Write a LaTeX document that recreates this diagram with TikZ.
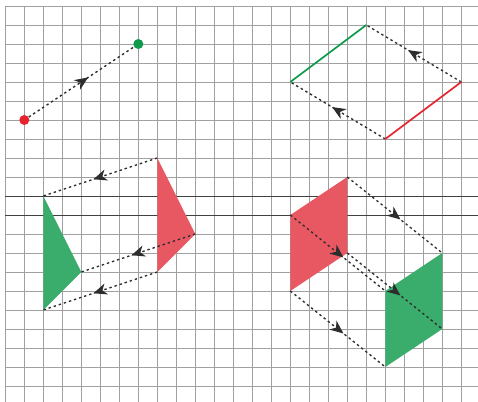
\documentclass[tikz,border=0pt]{standalone}
\usetikzlibrary{arrows.meta,decorations.markings}
\definecolor{fillred}{RGB}{232,88,98}
\definecolor{fillgreen}{RGB}{58,172,108}
\definecolor{linered}{RGB}{230,36,46}
\definecolor{linegreen}{RGB}{14,154,74}
\definecolor{gridgray}{RGB}{160,160,160}
\definecolor{dashgray}{RGB}{45,45,45}
\tikzset{
  gridline/.style={draw=gridgray,line width=0.55pt},
  axisline/.style={draw=black!75,line width=0.6pt},
  transl/.style={draw=dashgray,line width=1pt,dash pattern=on 1.8pt off 2.2pt,
    postaction={decorate,decoration={markings,mark=at position 0.56 with {\arrow[dashgray]{Stealth[length=10pt,width=8.5pt,inset=3pt]}}}}},
  redfill/.style={fill=fillred,draw=none},
  greenfill/.style={fill=fillgreen,draw=none},
  redseg/.style={draw=linered,line width=1.3pt},
  greenseg/.style={draw=linegreen,line width=1.3pt},
  dotred/.style={circle,fill=linered,inner sep=0pt,minimum size=7.5pt},
  dotgreen/.style={circle,fill=linegreen,inner sep=0pt,minimum size=7.5pt}
}
\begin{document}
\begin{tikzpicture}[x=0.5cm,y=-0.5cm]
\useasboundingbox (-0.28,-0.316) rectangle (24.88,20.84);
\fill[white] (-0.28,-0.316) rectangle (24.88,20.84);
% grid
\foreach \i in {0,...,24} \draw[gridline] (\i,0) -- (\i,20.84);
\foreach \j in {0,...,20} \draw[gridline] (0,\j) -- (24.88,\j);
\draw[axisline] (0,10) -- (24.88,10);
\draw[axisline] (0,11) -- (24.88,11);

% top-left: point translation
\coordinate (p) at (1,6);
\coordinate (q) at (7,2);
\draw[transl] (p) -- (q);
\node[dotred] (pdot) at (p) {};
\node[dotgreen] (qdot) at (q) {};

% top-right: segment translation
\coordinate (ra) at (20,7);
\coordinate (rb) at (24,4);
\coordinate (ga) at (15,4);
\coordinate (gb) at (19,1);
\draw[transl] (ra) -- (ga);
\draw[transl] (rb) -- (gb);
\draw[greenseg] (ga) -- (gb);
\draw[redseg] (ra) -- (rb);

% bottom-left: triangle translation
\coordinate (t1) at (8,8);
\coordinate (t2) at (10,12);
\coordinate (t3) at (8,14);
\coordinate (s1) at (2,10);
\coordinate (s2) at (4,14);
\coordinate (s3) at (2,16);
\fill[redfill] (t1) -- (t2) -- (t3) -- cycle;
\fill[greenfill] (s1) -- (s2) -- (s3) -- cycle;
\draw[transl] (t1) -- (s1);
\draw[transl] (t2) -- (s2);
\draw[transl] (t3) -- (s3);

% bottom-right: parallelogram translation
\coordinate (u1) at (15,11);
\coordinate (u2) at (18,9);
\coordinate (u3) at (18,13);
\coordinate (u4) at (15,15);
\coordinate (v1) at (20,15);
\coordinate (v2) at (23,13);
\coordinate (v3) at (23,17);
\coordinate (v4) at (20,19);
\fill[redfill] (u1) -- (u2) -- (u3) -- (u4) -- cycle;
\fill[greenfill] (v1) -- (v2) -- (v3) -- (v4) -- cycle;
\draw[transl] (u1) -- (v1);
\draw[transl] (u2) -- (v2);
\draw[transl] (u3) -- (v3);
\draw[transl] (u4) -- (v4);
\end{tikzpicture}
\end{document}
